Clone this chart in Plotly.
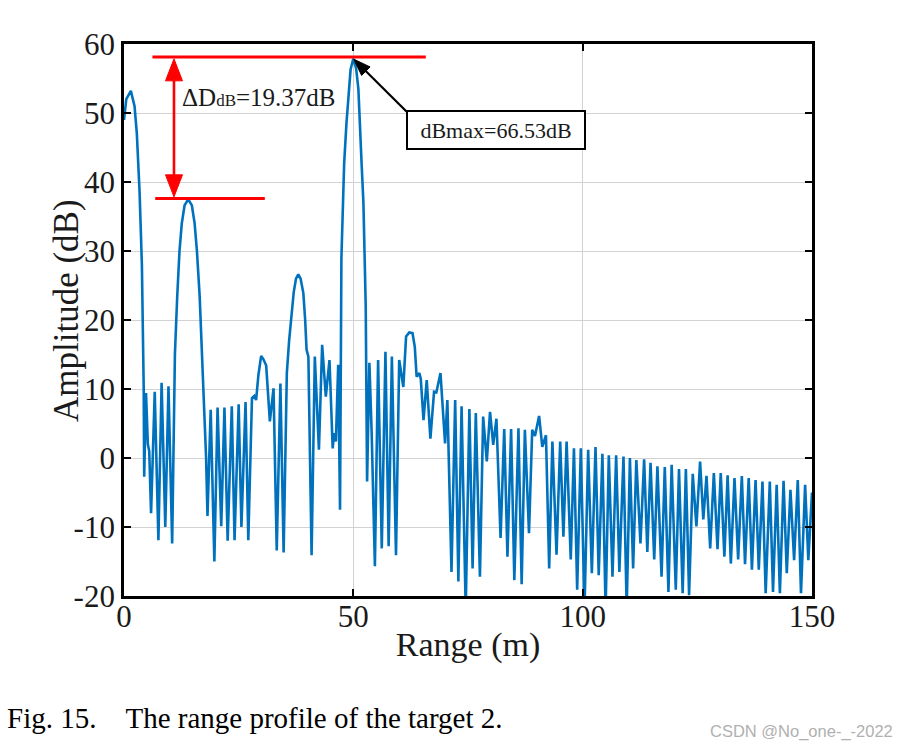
import plotly.graph_objects as go

# ---------------- data ----------------
range_m = [
    0.0, 0.5, 1.5, 2.3, 2.8, 3.4, 3.9, 4.2, 4.3, 4.4, 4.8, 5.2, 5.5, 5.9, 6.7, 7.5, 8.2, 9.0, 9.7, 10.5,
    10.8, 11.1, 11.6, 12.1, 12.6, 13.2, 14.0, 14.8, 15.4, 15.9, 16.5, 16.9, 17.5, 17.9, 18.2,
    18.9, 19.7, 20.4, 21.2, 21.9, 22.6, 23.5, 24.1, 25.0, 25.6, 26.5, 27.1, 27.9, 28.4, 28.8,
    29.3, 29.9, 30.4, 31.0, 31.8, 32.6, 33.3, 34.1, 34.8,
    35.2, 35.5, 36.0, 36.6, 37.0, 37.5, 38.0, 38.5, 39.1, 39.5, 39.8, 40.2, 40.9,
    41.6, 42.5, 43.2, 44.0, 44.8, 45.5, 45.8, 46.2, 46.7, 47.1,
    47.4, 47.7, 48.0, 48.5, 48.9, 49.4, 50.0, 50.6, 51.1, 51.5, 51.8, 52.2, 52.5, 52.7, 53.0,
    53.5, 54.0, 54.7, 55.4, 56.2, 57.0, 57.7, 58.4, 59.3, 60.0, 60.9,
    61.5, 62.2, 62.9, 63.4, 63.8, 64.4, 64.7, 65.3, 66.0, 66.8, 67.6, 68.1, 69.0, 70.0, 70.5,
    71.4, 72.2, 72.9, 73.6, 74.5,
    75.3, 76.0, 76.7, 77.6, 78.3, 79.1, 79.8, 80.5, 81.2, 82.1, 82.9, 83.6, 84.4, 85.1, 86.0,
    86.7, 87.4, 88.3, 89.0, 89.6, 90.5, 91.2, 92.0, 92.7, 93.4, 94.3, 95.1, 95.8, 96.5, 97.4,
    98.1, 98.8, 99.6, 100.4, 101.2, 102.0, 102.8, 103.5, 104.3, 105.0, 105.7, 106.5, 107.3,
    108.0, 108.9, 109.6, 110.3, 111.0, 111.7, 112.6, 113.4, 114.1, 114.8, 115.6, 116.3, 117.2,
    117.9, 118.7, 119.4, 120.3, 121.0, 121.8, 122.5, 123.2, 124.0, 124.8, 125.6, 126.3, 127.0,
    127.8, 128.6, 129.4, 130.1, 130.9, 131.6, 132.3, 133.1, 133.9, 134.7, 135.4, 136.2, 136.9,
    137.7, 138.4, 139.2, 139.9, 140.8, 141.5, 142.3, 143.0, 143.8, 144.5, 145.3, 146.1, 146.9,
    147.6, 148.5, 149.2, 150.0,
]
amplitude_db = [
    49.0, 52.0, 53.2, 51.0, 47.0, 38.5, 28.0, 17.0, 10.0, -2.7, 9.4, 2.0, 1.0, -8.0, 9.6, -11.9, 10.9, -10.0, 10.4, -12.4,
    4.0, 15.0, 23.4, 30.0, 34.0, 36.6, 37.5, 36.6, 34.0, 30.0, 23.4, 17.0, 6.0, 0.0, -8.4,
    7.0, -15.0, 7.3, -9.9, 7.3, -12.0, 7.5, -11.9, 7.8, -10.0, 8.1, -11.9, 8.7, 9.0, 8.4,
    12.0, 14.8, 14.3, 13.4, 5.3, 10.1, -13.4, 10.8, -13.7,
    3.0, 12.3, 17.0, 21.4, 24.0, 26.0, 26.6, 26.0, 23.9, 20.0, 15.7, 14.7, -14.1,
    14.7, 1.2, 16.4, 8.9, 14.2, 1.4, 3.6, 2.4, 13.5, -7.5,
    29.0, 37.0, 42.7, 48.5, 52.4, 56.3, 57.9, 56.5, 53.5, 48.5, 42.7, 37.0, 30.0, 22.0, -3.4,
    13.8, 3.6, -15.7, 14.2, -13.1, 15.4, -12.8, 14.7, -14.1, 14.2, 10.3,
    17.6, 18.2, 18.1, 16.1, 11.8, 12.3, 11.5, 5.5, 11.3, 2.8, 9.6, 9.5, 12.3, 2.1, 8.4,
    -16.5, 8.4, -17.9, 7.5, -22.0,
    7.1, -16.0, 6.5, -17.2, 6.0, -0.5, 6.7, 1.9, 5.7, -11.6, 4.2, -14.3, 4.2, -17.7, 4.3,
    -18.3, 4.1, -10.9, 4.1, 3.2, 6.1, 1.6, 3.3, -16.0, 2.4, -14.0, 2.4, -11.4, 2.4, -14.7,
    1.4, -19.1, 1.4, -22.0, 1.2, -16.7, 1.6, -17.0, 0.6, -22.0, 0.4, -17.2, 0.4,
    -16.5, 0.2, -22.0, 0.0, -16.0, -0.3, -12.4, -0.2, -13.6, -0.7, -14.7, -1.2, -17.2,
    -1.3, -19.4, -1.0, -19.1, -1.6, -19.6, -1.6, -19.9, -2.3, -9.9, -0.5, -8.9, -2.6,
    -13.1, -2.2, -13.2, -2.2, -14.3, -2.5, -15.3, -2.9, -14.7, -2.6, -15.4, -2.9, -16.2,
    -3.2, -16.2, -3.4, -19.6, -3.4, -19.4, -3.9, -19.6, -3.3, -16.7, -4.6, -14.8, -3.2,
    -19.6, -3.9, -14.8, -5.0,
]

x_ticks = [0, 50, 100, 150]
y_ticks = [-20, -10, 0, 10, 20, 30, 40, 50, 60]
x_title = "Range (m)"
y_title = "Amplitude (dB)"

# annotation values
peak_level = 58.1          # upper red reference line (dB)
second_level = 37.6        # lower red reference line (dB)
upper_line_x = [6.2, 65.8]
lower_line_x = [6.8, 30.7]
arrow_x = 10.9
peak_pos = (50.1, 57.8)
delta_text = "ΔD<span style='font-size:17px'>dB</span>=19.37dB"
max_text = "dBmax=66.53dB"

# ---------------- styling / geometry helpers ----------------
X_RANGE = [0, 150]
Y_RANGE = [-20, 60]
W, H = 900, 746
ML, MR, MT, MB = 124, 88, 44, 150
PW, PH = W - ML - MR, H - MT - MB
PX_X = (X_RANGE[1] - X_RANGE[0]) / PW   # data units per pixel (x)
PX_Y = (Y_RANGE[1] - Y_RANGE[0]) / PH   # data units per pixel (y)

SERIF = "Liberation Serif, Times New Roman, serif"
TXT = "#1a1a1a"


def arrow_head(tip_x, tip_y, dir_px, length_px, half_w_px):
    """triangle path (data coords) pointing at tip; dir_px = unit vector tip->tail in screen px (y down)."""
    dx, dy = dir_px
    bx, by = dx * length_px, dy * length_px
    nx, ny = -dy * half_w_px, dx * half_w_px
    pts = [(0, 0), (bx + nx, by + ny), (bx - nx, by - ny)]
    coords = [(tip_x + px * PX_X, tip_y - py * PX_Y) for px, py in pts]
    return "M {} {} L {} {} L {} {} Z".format(*[v for c in coords for v in c])


fig = go.Figure()
fig.add_trace(go.Scatter(
    x=range_m, y=amplitude_db, mode="lines",
    line=dict(color="#0072BD", width=2.6), showlegend=False,
))

RED = "#FF0000"
fig.add_shape(type="line", xref="x", yref="y", x0=upper_line_x[0], x1=upper_line_x[1],
              y0=peak_level, y1=peak_level, line=dict(color=RED, width=3))
fig.add_shape(type="line", xref="x", yref="y", x0=lower_line_x[0], x1=lower_line_x[1],
              y0=second_level, y1=second_level, line=dict(color=RED, width=3))

# red double-headed arrow
head_len, head_hw = 22, 8.5
fig.add_shape(type="line", xref="x", yref="y", x0=arrow_x, x1=arrow_x,
              y0=second_level + head_len * PX_Y * 0.9, y1=peak_level - head_len * PX_Y * 0.9,
              line=dict(color=RED, width=2.6))
fig.add_shape(type="path", xref="x", yref="y",
              path=arrow_head(arrow_x, peak_level - 0.25, (0, 1), head_len, head_hw),
              fillcolor=RED, line=dict(color=RED, width=1))
fig.add_shape(type="path", xref="x", yref="y",
              path=arrow_head(arrow_x, second_level + 0.25, (0, -1), head_len, head_hw),
              fillcolor=RED, line=dict(color=RED, width=1))

# black arrow from the box corner to the main peak
tail_px = (52.7, 52.4)
norm = (tail_px[0] ** 2 + tail_px[1] ** 2) ** 0.5
unit = (tail_px[0] / norm, tail_px[1] / norm)
b_len, b_hw = 17, 6
fig.add_shape(type="line", xref="x", yref="y",
              x0=peak_pos[0] + unit[0] * b_len * 0.8 * PX_X,
              y0=peak_pos[1] - unit[1] * b_len * 0.8 * PX_Y,
              x1=peak_pos[0] + tail_px[0] * PX_X, y1=peak_pos[1] - tail_px[1] * PX_Y,
              line=dict(color="black", width=2.2))
fig.add_shape(type="path", xref="x", yref="y",
              path=arrow_head(peak_pos[0], peak_pos[1], unit, b_len, b_hw),
              fillcolor="black", line=dict(color="black", width=1))

# delta text
fig.add_annotation(x=12.3, y=52.3, xref="x", yref="y", text=delta_text,
                   showarrow=False, xanchor="left", yanchor="middle",
                   font=dict(family=SERIF, size=25, color=TXT))

# boxed max text
fig.add_annotation(x=81.06, y=47.5, xref="x", yref="y", text=max_text,
                   showarrow=False, xanchor="center", yanchor="middle",
                   bgcolor="white", bordercolor="black", borderwidth=2, borderpad=2,
                   width=172, height=32,
                   font=dict(family=SERIF, size=22, color=TXT))

# y-axis title placed as an annotation (it sits closer to the tick labels than plotly allows)
fig.add_annotation(x=(66 - ML) / PW, y=(MT + PH - 311) / PH, xref="paper", yref="paper",
                   text=y_title, textangle=-90, showarrow=False,
                   xanchor="center", yanchor="middle",
                   font=dict(family=SERIF, size=35, color=TXT))

# caption and watermark
fig.add_annotation(x=(5 - ML) / PW, y=(MT + PH - 718) / PH, xref="paper", yref="paper",
                   text="Fig. 15.\u00a0\u00a0\u00a0\u00a0The range profile of the target 2.",
                   showarrow=False, xanchor="left", yanchor="middle",
                   font=dict(family=SERIF, size=29, color="black"))
fig.add_annotation(x=(895 - ML) / PW, y=(MT + PH - 731) / PH, xref="paper", yref="paper",
                   text="CSDN @No_one-_-2022", showarrow=False, xanchor="right", yanchor="middle",
                   font=dict(family="Liberation Sans, Arial, sans-serif", size=16.5, color="#b0b0b0"))

axis_common = dict(
    showgrid=True, gridcolor="#d2d2d2", gridwidth=1,
    showline=True, linecolor="black", linewidth=2.8, mirror="ticks",
    ticks="inside", ticklen=7, tickwidth=2, tickcolor="black",
    zeroline=False,
    tickfont=dict(family=SERIF, size=31, color=TXT),
)
fig.update_xaxes(range=X_RANGE, tickvals=x_ticks, ticklabelstandoff=-9,
                 title=dict(text=x_title, standoff=0, font=dict(family=SERIF, size=34, color=TXT)),
                 **axis_common)
fig.update_yaxes(range=Y_RANGE, tickvals=y_ticks, ticktext=[str(v) for v in y_ticks], **axis_common)

fig.update_layout(
    width=W, height=H,
    margin=dict(l=ML, r=MR, t=MT, b=MB, autoexpand=False),
    plot_bgcolor="white", paper_bgcolor="white",
    showlegend=False,
)

fig.write_html("out.html")
